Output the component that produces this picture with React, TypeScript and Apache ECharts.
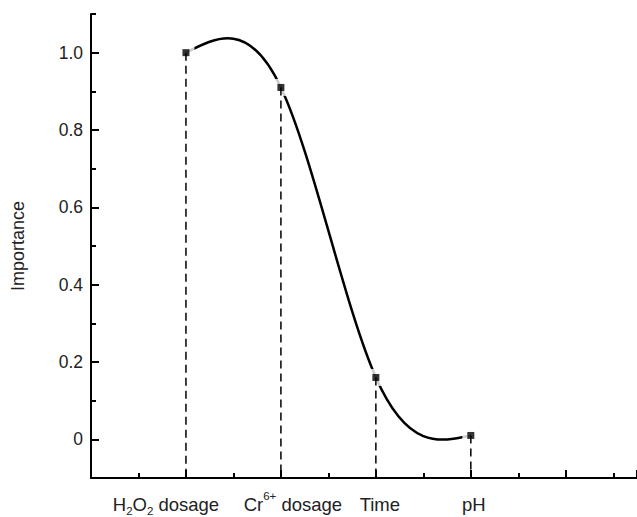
import React, { useEffect, useRef } from "react";
import * as echarts from "echarts";

// ---- data ----
const categoryPositions = [1, 2, 3, 4];
const categoryLabels = ["H2O2 dosage", "Cr6+ dosage", "Time", "pH"];
const importance = [1.0, 0.91, 0.16, 0.01];
const yTickValues = [0, 0.2, 0.4, 0.6, 0.8, 1.0];
const yMinorValues = [0.1, 0.3, 0.5, 0.7, 0.9, 1.1];

const Y_MIN = -0.1;
const Y_MAX = 1.1;
const X_MIN = 0;
const X_MAX = 5.75;

// natural cubic spline second derivatives (rendering helper)
function splineSecondDerivs(xs: number[], ys: number[]): number[] {
  const n = xs.length;
  const M = new Array(n).fill(0);
  if (n < 3) return M;
  const a: number[] = [], b: number[] = [], c: number[] = [], d: number[] = [];
  for (let i = 1; i < n - 1; i++) {
    const h0 = xs[i] - xs[i - 1];
    const h1 = xs[i + 1] - xs[i];
    a.push(h0);
    b.push(2 * (h0 + h1));
    c.push(h1);
    d.push(6 * ((ys[i + 1] - ys[i]) / h1 - (ys[i] - ys[i - 1]) / h0));
  }
  const m = b.length;
  for (let i = 1; i < m; i++) {
    const w = a[i] / b[i - 1];
    b[i] -= w * c[i - 1];
    d[i] -= w * d[i - 1];
  }
  const sol = new Array(m).fill(0);
  sol[m - 1] = d[m - 1] / b[m - 1];
  for (let i = m - 2; i >= 0; i--) sol[i] = (d[i] - c[i] * sol[i + 1]) / b[i];
  for (let i = 0; i < m; i++) M[i + 1] = sol[i];
  return M;
}

const M2 = splineSecondDerivs(categoryPositions, importance);

function labelFor(v: number): string {
  const i = categoryPositions.indexOf(Math.round(v * 1000) / 1000);
  if (i === 0) return "{h|H}{s|2}{h|O}{s|2}{h| dosage}{sa| }";
  if (i === 1) return "{sb| }{h|Cr}{p|6+}{h| dosage}";
  if (i === 2) return "{sc| }{h|Time}";
  if (i === 3) return "{sd| }{h|pH}";
  return "";
}

export default function App() {
  const ref = useRef<HTMLDivElement>(null);
  useEffect(() => {
    if (!ref.current) return;
    const chart = echarts.init(ref.current, null, { renderer: "svg" });
    const pts = categoryPositions.map((x, i) => [x, importance[i]]);
    const font = "Liberation Sans, Arial, sans-serif";
    chart.setOption({
      animation: false,
      backgroundColor: "#ffffff",
      grid: { left: 91, right: 0, top: 14, bottom: 39, containLabel: false, outerBoundsMode: "none" },
      xAxis: {
        type: "value",
        min: X_MIN,
        max: X_MAX,
        interval: 1,
        axisLine: { show: true, onZero: false, lineStyle: { color: "#000", width: 2 } },
        axisTick: { show: true, inside: true, length: 8, lineStyle: { color: "#000", width: 2 } },
        minorTick: { show: true, splitNumber: 2, length: 5, lineStyle: { color: "#000", width: 2 } },
        splitLine: { show: false },
        minorSplitLine: { show: false },
        axisLabel: {
          show: true,
          margin: 12,
          hideOverlap: false,
          formatter: (v: number) => labelFor(v),
          rich: {
            h: { fontSize: 18.5, fontFamily: font, color: "#222", lineHeight: 24, verticalAlign: "bottom" },
            s: { fontSize: 11.5, fontFamily: font, color: "#222", lineHeight: 16, verticalAlign: "bottom", padding: [0, 0, -3, 0] },
            p: { fontSize: 11.5, fontFamily: font, color: "#222", lineHeight: 16, verticalAlign: "top" },
            sa: { width: 40, fontSize: 10 },
            sb: { width: 24, fontSize: 10 },
            sc: { width: 8, fontSize: 10 },
            sd: { width: 6, fontSize: 10 },
          },
        },
      },
      yAxis: [
        {
          type: "value",
          min: Y_MIN,
          max: Y_MAX,
          name: "Importance",
          nameLocation: "middle",
          nameRotate: 90,
          nameGap: 64,
          nameTextStyle: { fontSize: 18, fontFamily: font, color: "#222" },
          axisLine: { show: true, onZero: false, lineStyle: { color: "#000", width: 2 } },
          axisTick: { show: true, inside: true, length: 8, customValues: yTickValues, lineStyle: { color: "#000", width: 2 } },
          axisLabel: {
            show: true,
            customValues: yTickValues,
            margin: 8,
            fontSize: 17.5,
            fontFamily: font,
            color: "#222",
            formatter: (v: number) => (Math.abs(v) < 1e-9 ? "0" : v.toFixed(1)),
          },
          splitLine: { show: false },
        },
        {
          type: "value",
          min: Y_MIN,
          max: Y_MAX,
          position: "left",
          axisLine: { show: false },
          axisTick: { show: true, inside: true, length: 5, customValues: yMinorValues, lineStyle: { color: "#000", width: 2 } },
          axisLabel: { show: false },
          splitLine: { show: false },
        },
      ],
      series: [
        {
          type: "custom",
          name: "spline",
          coordinateSystem: "cartesian2d",
          z: 1,
          data: pts,
          renderItem: (params: any, api: any) => {
            const i = params.dataIndex;
            if (i >= pts.length - 1) return { type: "group", children: [] };
            const x0 = categoryPositions[i], x1 = categoryPositions[i + 1];
            const y0 = importance[i], y1 = importance[i + 1];
            const h = x1 - x0;
            const d0 = (y1 - y0) / h - (h * (2 * M2[i] + M2[i + 1])) / 6;
            const d1 = (y1 - y0) / h + (h * (M2[i] + 2 * M2[i + 1])) / 6;
            const p0 = api.coord([x0, y0]);
            const p1 = api.coord([x1, y1]);
            const c1 = api.coord([x0 + h / 3, y0 + (h * d0) / 3]);
            const c2 = api.coord([x1 - h / 3, y1 - (h * d1) / 3]);
            return {
              type: "bezierCurve",
              shape: { x1: p0[0], y1: p0[1], x2: p1[0], y2: p1[1], cpx1: c1[0], cpy1: c1[1], cpx2: c2[0], cpy2: c2[1] },
              style: { stroke: "#000", lineWidth: 2.5, fill: null },
            };
          },
        },
        {
          type: "scatter",
          name: "gap",
          data: pts,
          symbol: "rect",
          symbolSize: 17,
          itemStyle: { color: "#fff" },
          z: 2,
          silent: true,
        },
        {
          type: "custom",
          name: "drop",
          coordinateSystem: "cartesian2d",
          z: 3,
          data: pts,
          renderItem: (params: any, api: any) => {
            const top = api.coord([api.value(0), api.value(1)]);
            const bottom = api.coord([api.value(0), Y_MIN]);
            return {
              type: "line",
              shape: { x1: top[0], y1: top[1], x2: bottom[0], y2: bottom[1] },
              style: { stroke: "#000", lineWidth: 1.5, lineDash: [8, 5] },
            };
          },
        },
        {
          type: "scatter",
          name: "points",
          data: pts,
          symbol: "rect",
          symbolSize: 7,
          itemStyle: { color: "#000" },
          z: 4,
        },
      ],
    });
    return () => chart.dispose();
  }, []);
  return <div ref={ref} style={{ width: 637, height: 517, position: "absolute", left: 0, top: 0 }} />;
}
